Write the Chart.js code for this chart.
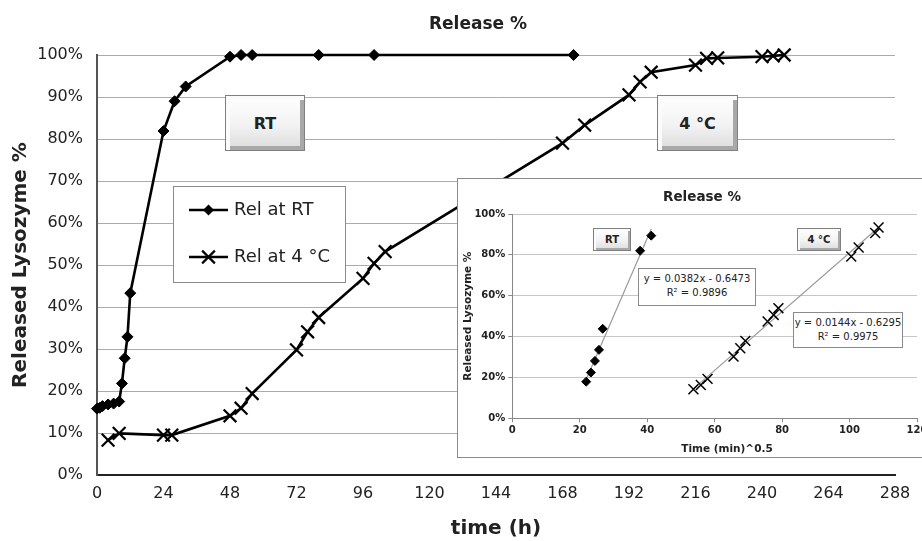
<!DOCTYPE html>
<html>
<head>
<meta charset="utf-8">
<script src="https://cdn.jsdelivr.net/npm/chart.js@4.4.1/dist/chart.umd.min.js"></script>
<style>
html,body{margin:0;padding:0;background:#fff;overflow:hidden;}
#wrap{position:relative;width:922px;height:541px;overflow:hidden;font-family:"DejaVu Sans",sans-serif;}
#main{position:absolute;left:0;top:0;}
.bevel{position:absolute;box-sizing:border-box;border:1px solid #7f7f7f;
  background:linear-gradient(180deg,#ffffff 0%,#f2f2f2 55%,#dcdcdc 100%);
  box-shadow:inset 5px 5px 0 -1px #fbfbfb, inset -5px -5px 0 -1px #a8a8a8;
  display:flex;align-items:center;justify-content:center;font-weight:bold;color:#222;}
.bevel.small{box-shadow:inset 3px 3px 0 -1px #fbfbfb, inset -3px -3px 0 -1px #a8a8a8;}
#insetBox{position:absolute;left:457px;top:178px;width:480px;height:280px;box-sizing:border-box;border:1px solid #8a8a8a;background:#fff;}
#inset{position:absolute;left:0;top:0;}
.eq{position:absolute;box-sizing:border-box;border:1px solid #8a8a8a;background:#fff;font-size:10px;text-align:center;color:#222;line-height:14px;padding-top:3px;}
</style>
</head>
<body>
<div id="wrap">
  <canvas id="main" width="922" height="541"></canvas>
  <div class="bevel" style="left:225px;top:95px;width:80px;height:56px;font-size:16px;">RT</div>
  <div class="bevel" style="left:657px;top:95px;width:81px;height:56px;font-size:16px;">4 °C</div>
  <div id="insetBox">
    <canvas id="inset" width="478" height="278"></canvas>
    <div class="bevel small" style="left:135px;top:49px;width:38px;height:23px;font-size:10px;">RT</div>
    <div class="bevel small" style="left:339px;top:49px;width:44px;height:23px;font-size:10px;">4 °C</div>
    <div class="eq" style="left:180px;top:89px;width:118px;height:38px;">y = 0.0382x - 0.6473<br>R² = 0.9896</div>
    <div class="eq" style="left:335px;top:133px;width:110px;height:36px;">y = 0.0144x - 0.6295<br>R² = 0.9975</div>
  </div>
</div>
<script>
// ---------- data: main chart ----------
const mainTitle = 'Release %';
const xTitle = 'time (h)';
const yTitle = 'Released Lysozyme %';
const seriesNames = ['Rel at RT', 'Rel at 4 °C'];
const xTicks = [0, 24, 48, 72, 96, 120, 144, 168, 192, 216, 240, 264, 288];
const yTicks = [0, 10, 20, 30, 40, 50, 60, 70, 80, 90, 100];

const rtHours   = [0, 1, 2, 4, 6, 8, 9, 10, 11, 12, 24, 28, 32, 48, 52, 56, 80, 100, 172];
const rtRelease = [15.8, 16.0, 16.4, 16.8, 17.0, 17.5, 21.8, 27.8, 32.9, 43.3, 81.9, 89.0, 92.5, 99.6, 100, 100, 100, 100, 100];

const c4Hours   = [4, 8, 24, 27, 48, 52, 56, 72, 76, 80, 96, 100, 104, 168, 176, 192, 196, 200, 216, 220, 224, 240, 244, 248];
const c4Release = [8.3, 9.9, 9.5, 9.5, 14.1, 15.9, 19.4, 29.8, 34.1, 37.5, 46.8, 50.4, 53.2, 79.0, 83.3, 90.5, 93.6, 95.9, 97.6, 99.2, 99.3, 99.6, 99.8, 100];

// ---------- data: inset chart ----------
const insetTitle = 'Release %';
const insetXTitle = 'Time (min)^0.5';
const insetYTitle = 'Released Lysozyme %';
const insetXTicks = [0, 20, 40, 60, 80, 100, 120];
const insetYTicks = [0, 20, 40, 60, 80, 100];
const rtRoot    = [21.9, 23.3, 24.5, 25.7, 26.8, 37.9, 41.2];
const rtRootRel = [17.9, 22.4, 28.1, 33.5, 43.8, 82.0, 89.4];
const c4Root    = [53.7, 55.9, 57.9, 65.6, 67.6, 69.1, 75.7, 77.5, 78.9, 100.5, 102.7, 107.6, 108.6];
const c4RootRel = [14.2, 16.3, 19.3, 30.2, 34.3, 37.9, 47.4, 50.6, 53.9, 79.2, 83.6, 90.7, 93.4];
const rtTrendX = [21.9, 41.2];
const rtTrendY = [19.0, 92.7];
const c4TrendX = [53.7, 108.6];
const c4TrendY = [14.4, 93.4];

const pts = (xs, ys) => xs.map((x, i) => ({x: x, y: ys[i]}));
const FONT = '"DejaVu Sans"';
const TXT = '#222';

function diamond(ctx, x, y, r) {
  ctx.beginPath(); ctx.moveTo(x - r, y); ctx.lineTo(x, y - r); ctx.lineTo(x + r, y); ctx.lineTo(x, y + r);
  ctx.closePath(); ctx.fill();
}
function cross(ctx, x, y, r) {
  const d = r * Math.SQRT1_2;
  ctx.beginPath(); ctx.moveTo(x - d, y - d); ctx.lineTo(x + d, y + d); ctx.moveTo(x + d, y - d); ctx.lineTo(x - d, y + d);
  ctx.stroke();
}

const mainDecor = {
  id: 'mainDecor',
  afterDraw(chart) {
    const ctx = chart.ctx;
    ctx.save();
    ctx.fillStyle = TXT;
    ctx.font = 'bold 17px ' + FONT;
    ctx.textAlign = 'center'; ctx.textBaseline = 'middle';
    ctx.fillText(mainTitle, 478, 25);
    // legend
    ctx.fillStyle = '#fff';
    ctx.fillRect(173.5, 186.5, 172, 96);
    ctx.strokeStyle = '#8a8a8a'; ctx.lineWidth = 1;
    ctx.strokeRect(173.5, 186.5, 172, 96);
    const rows = [210, 257];
    ctx.strokeStyle = '#000'; ctx.fillStyle = '#000'; ctx.lineWidth = 2.5;
    rows.forEach((y, i) => {
      ctx.beginPath(); ctx.moveTo(189, y); ctx.lineTo(228, y); ctx.stroke();
      if (i === 0) diamond(ctx, 208.5, y, 5.5); else { ctx.lineWidth = 2.2; cross(ctx, 208.5, y, 9); }
    });
    ctx.fillStyle = TXT;
    ctx.font = '18px ' + FONT;
    ctx.textAlign = 'left';
    rows.forEach((y, i) => ctx.fillText(seriesNames[i], 234, y));
    ctx.restore();
  }
};

new Chart(document.getElementById('main'), {
  type: 'scatter',
  data: {
    datasets: [
      {label: seriesNames[0], data: pts(rtHours, rtRelease), showLine: true, borderColor: '#000', backgroundColor: '#000',
       borderWidth: 2.6, pointStyle: 'rectRot', pointRadius: 5.5, pointBorderWidth: 1, clip: false},
      {label: seriesNames[1], data: pts(c4Hours, c4Release), showLine: true, borderColor: '#000', backgroundColor: '#000',
       borderWidth: 2.6, pointStyle: 'crossRot', pointRadius: 9, pointBorderWidth: 2.2, clip: false}
    ]
  },
  options: {
    responsive: false, animation: false, devicePixelRatio: 1,
    layout: {padding: {top: 55, right: 27, bottom: 0, left: 0}},
    plugins: {legend: {display: false}, title: {display: false}, tooltip: {enabled: false}},
    scales: {
      x: {
        type: 'linear', min: 0, max: 288,
        afterBuildTicks: s => { s.ticks = xTicks.map(v => ({value: v})); },
        afterFit: s => { s.height = 66; },
        ticks: {autoSkip: false, maxRotation: 0, padding: 9, color: TXT, font: {family: FONT, size: 16}},
        grid: {drawOnChartArea: false, drawTicks: false},
        border: {color: '#222', width: 2},
        title: {display: true, text: xTitle, color: TXT, font: {family: FONT, size: 20, weight: 'bold'}, padding: {top: 0, bottom: 0}}
      },
      y: {
        min: 0, max: 100,
        afterBuildTicks: s => { s.ticks = yTicks.map(v => ({value: v})); },
        afterFit: s => { s.width = 97; },
        ticks: {padding: 14, color: TXT, font: {family: FONT, size: 16}, callback: v => v + '%'},
        grid: {color: '#ababab', lineWidth: 1, drawTicks: false},
        border: {color: '#555', width: 2},
        title: {display: true, text: yTitle, color: TXT, font: {family: FONT, size: 20, weight: 'bold'}, padding: {top: 9, bottom: 0}}
      }
    }
  },
  plugins: [mainDecor]
});

const insetDecor = {
  id: 'insetDecor',
  afterDraw(chart) {
    const ctx = chart.ctx;
    ctx.save();
    ctx.fillStyle = TXT;
    ctx.textAlign = 'center'; ctx.textBaseline = 'middle';
    ctx.font = 'bold 13.5px ' + FONT;
    ctx.fillText(insetTitle, 244, 18);
    ctx.font = 'bold 10.5px ' + FONT;
    ctx.fillText(insetXTitle, 269, 270);
    ctx.restore();
  }
};

new Chart(document.getElementById('inset'), {
  type: 'scatter',
  data: {
    datasets: [
      {data: pts(rtRoot, rtRootRel), showLine: false, backgroundColor: '#000', borderColor: '#000',
       pointStyle: 'rectRot', pointRadius: 4.5, pointBorderWidth: 1, clip: false},
      {data: pts(c4Root, c4RootRel), showLine: false, backgroundColor: '#000', borderColor: '#000',
       pointStyle: 'crossRot', pointRadius: 7, pointBorderWidth: 1.5, clip: false},
      {data: pts(rtTrendX, rtTrendY), showLine: true, borderColor: '#9a9a9a', borderWidth: 1.2, pointRadius: 0},
      {data: pts(c4TrendX, c4TrendY), showLine: true, borderColor: '#9a9a9a', borderWidth: 1.2, pointRadius: 0}
    ]
  },
  options: {
    responsive: false, animation: false, devicePixelRatio: 1,
    layout: {padding: {top: 35, right: 19, bottom: 0, left: 0}},
    plugins: {legend: {display: false}, title: {display: false}, tooltip: {enabled: false}},
    scales: {
      x: {
        type: 'linear', min: 0, max: 120,
        afterBuildTicks: s => { s.ticks = insetXTicks.map(v => ({value: v})); },
        afterFit: s => { s.height = 38.7; },
        ticks: {autoSkip: false, maxRotation: 0, padding: 2, color: TXT, font: {family: FONT, size: 10, weight: 'bold'}},
        grid: {drawOnChartArea: false, drawTicks: true, tickLength: 4, color: '#888'},
        border: {color: '#888', width: 1}
      },
      y: {
        min: 0, max: 100,
        afterBuildTicks: s => { s.ticks = insetYTicks.map(v => ({value: v})); },
        afterFit: s => { s.width = 54.3; },
        ticks: {padding: 3, color: TXT, font: {family: FONT, size: 10, weight: 'bold'}, callback: v => v + '%'},
        grid: {color: '#c6c6c6', lineWidth: 1, drawTicks: true, tickLength: 4, tickColor: '#888'},
        border: {color: '#888', width: 1},
        title: {display: true, text: insetYTitle, color: TXT, font: {family: FONT, size: 10.5, weight: 'bold'}, padding: {top: 4, bottom: 0}}
      }
    }
  },
  plugins: [insetDecor]
});
</script>
</body>
</html>
